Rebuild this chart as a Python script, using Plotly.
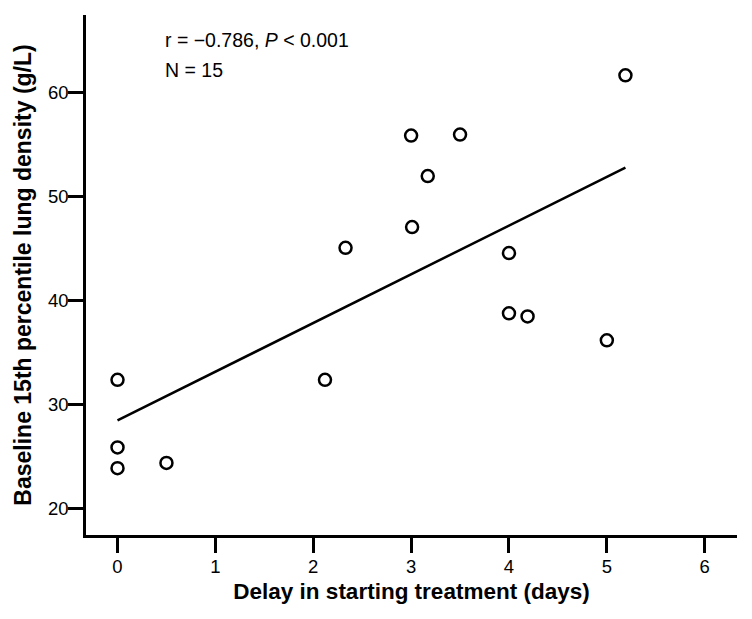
import numpy as np
import plotly.graph_objects as go

delay_days = [0, 0, 0, 0.5, 2.12, 2.33, 3.0, 3.5, 3.17, 3.01, 4.0, 5.19, 4.0, 4.19, 5.0]
density_gl = [32.4, 25.9, 23.9, 24.4, 32.4, 45.1, 55.9, 56.0, 52.0, 47.1, 44.6, 61.7, 38.8, 38.5, 36.2]
x_ticks = [0, 1, 2, 3, 4, 5, 6]
y_ticks = [20, 30, 40, 50, 60]

slope, intercept = np.polyfit(delay_days, density_gl, 1)
fit_x = [min(delay_days), max(delay_days)]
fit_y = [intercept + slope * v for v in fit_x]

FONT = "Liberation Sans, Arial, sans-serif"

fig = go.Figure()
fig.add_trace(go.Scatter(
    x=fit_x, y=fit_y, mode="lines",
    line=dict(color="black", width=2.5), showlegend=False, hoverinfo="skip"))
fig.add_trace(go.Scatter(
    x=delay_days, y=density_gl, mode="markers",
    marker=dict(symbol="circle-open", size=12, color="black", line=dict(width=2.5, color="black")),
    showlegend=False))

axis_common = dict(
    showline=True, linecolor="black", linewidth=2.5, mirror=False,
    ticks="outside", ticklen=15, tickwidth=2.5, tickcolor="black",
    showgrid=False, zeroline=False, automargin=False,
    tickfont=dict(family=FONT, size=18.5, color="black"),
)

fig.update_xaxes(
    range=[-0.322, 6.33], tickvals=x_ticks, ticklabelstandoff=-2,
    title=dict(text="<b>Delay in starting treatment (days)</b>",
               font=dict(family=FONT, size=22.5, color="black"), standoff=8),
    **axis_common)
fig.update_yaxes(
    range=[17.47, 67.5], tickvals=y_ticks, ticklabelstandoff=-4,
    title=dict(text="<b>Baseline 15th percentile lung density (g/L)</b>",
               font=dict(family=FONT, size=23, color="black"), standoff=10),
    **axis_common)

fig.add_annotation(text="r = \u22120.786, <i>P</i> < 0.001", xref="paper", yref="paper",
                   x=0.119, y=0.951, xanchor="left", yanchor="middle", showarrow=False,
                   font=dict(family=FONT, size=19.5, color="black"))
fig.add_annotation(text="N = 15", xref="paper", yref="paper",
                   x=0.119, y=0.894, xanchor="left", yanchor="middle", showarrow=False,
                   font=dict(family=FONT, size=19.5, color="black"))

fig.update_layout(
    width=752, height=619,
    margin=dict(l=78, r=23, t=7, b=92),
    plot_bgcolor="white", paper_bgcolor="white",
    font=dict(family=FONT, color="black"),
)

fig.write_html("out.html")
